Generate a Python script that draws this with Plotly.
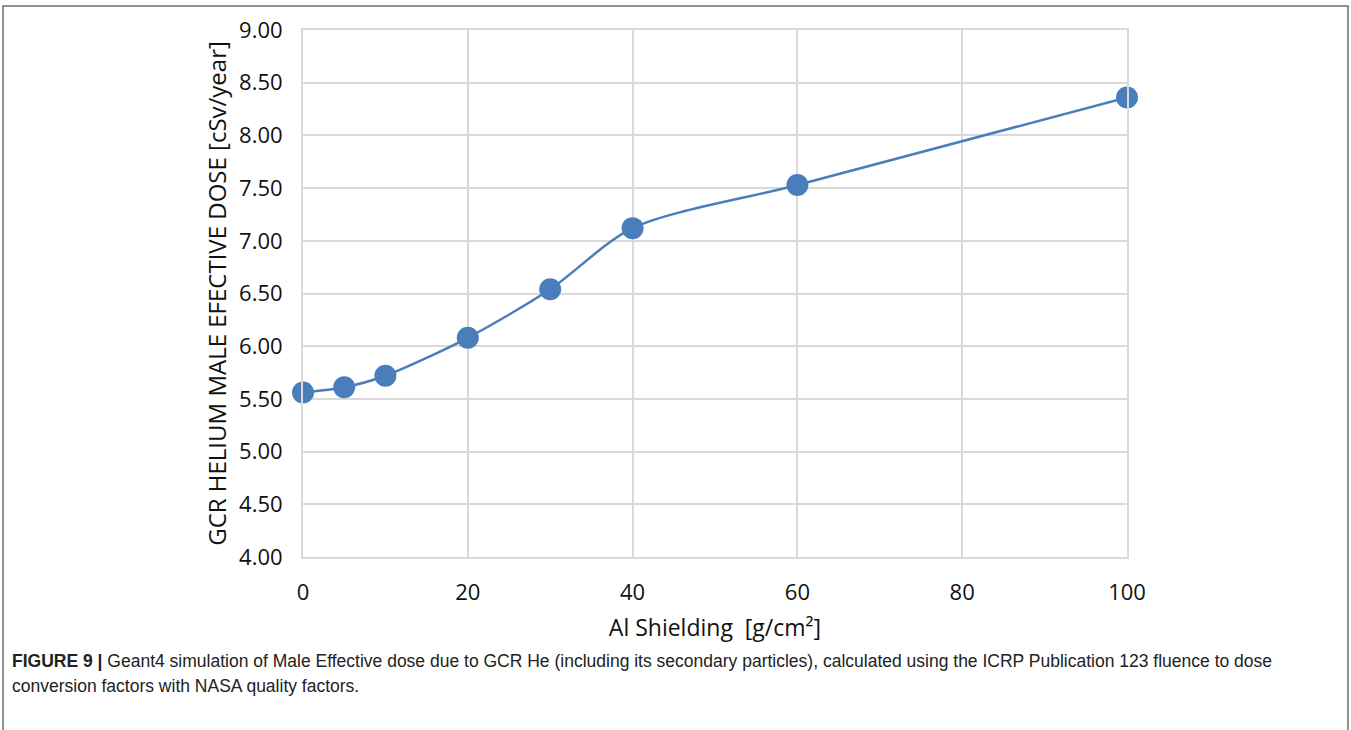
import plotly.graph_objects as go

shielding = [0, 5, 10, 20, 30, 40, 60, 100]
dose = [5.56, 5.61, 5.72, 6.08, 6.54, 7.12, 7.53, 8.36]

W, H = 1351, 730
L, R, T, B = 303, 1127, 30, 557

def px(x):
    return (x - L) / (R - L)

def py(y):
    return (B - y) / (B - T)

fig = go.Figure()
fig.add_trace(go.Scatter(
    x=shielding, y=dose, mode="lines+markers",
    line=dict(color="#4a7ebb", width=2.5, shape="spline", smoothing=0.8),
    marker=dict(color="#4a7ebb", size=22),
    showlegend=False, cliponaxis=False,
))

grid = "#d9d9d9"
fam = "Open Sans, Noto Sans, sans-serif"
tickfont = dict(family=fam, size=22, color="#111111")
fig.update_xaxes(
    range=[0, 100], dtick=20, tick0=0, showgrid=True, gridcolor=grid, gridwidth=2,
    showline=True, linecolor=grid, linewidth=2, mirror=True, zeroline=False,
    tickfont=tickfont, ticks="", ticklabelstandoff=15,
    title=dict(text="Al Shielding  [g/cm²]", font=dict(family=fam, size=23, color="#111111"), standoff=14),
)
fig.update_yaxes(
    range=[4, 9], dtick=0.5, tick0=4, tickformat=".2f", showgrid=True, gridcolor=grid, gridwidth=2,
    showline=True, linecolor=grid, linewidth=2, mirror=True, zeroline=False,
    tickfont=tickfont, ticks="", ticklabelstandoff=14,
    title=dict(text="GCR HELIUM MALE EFECTIVE DOSE [cSv/year]", font=dict(family=fam, size=24, color="#111111"), standoff=6),
)

fig.add_shape(type="rect", xref="paper", yref="paper",
              x0=px(3), x1=px(1348), y0=py(740), y1=py(6),
              line=dict(color="#6e6e6e", width=1.5), fillcolor="rgba(0,0,0,0)", layer="below")

capfont = dict(family="Liberation Sans Narrow, Liberation Sans, Arial, sans-serif", size=17.5, color="#222222")
fig.add_annotation(xref="paper", yref="paper", x=px(10), y=py(661), xanchor="left", yanchor="middle",
                   showarrow=False, align="left", font=capfont,
                   text="<b>FIGURE 9 |</b> Geant4 simulation of Male Effective dose due to GCR He (including its secondary particles), calculated using the ICRP Publication 123 fluence to dose")
fig.add_annotation(xref="paper", yref="paper", x=px(10), y=py(686), xanchor="left", yanchor="middle",
                   showarrow=False, align="left", font=capfont,
                   text="conversion factors with NASA quality factors.")

fig.update_layout(
    width=W, height=H, autosize=False,
    margin=dict(l=L, r=W - R, t=T, b=H - B, pad=0),
    plot_bgcolor="white", paper_bgcolor="white",
)
fig.write_html("out.html", config={"displayModeBar": False})

with open("out.html", "r", encoding="utf-8") as f:
    html = f.read()
html = html.replace("<body>", '<body style="margin:0;padding:0;overflow:hidden">', 1)
with open("out.html", "w", encoding="utf-8") as f:
    f.write(html)
